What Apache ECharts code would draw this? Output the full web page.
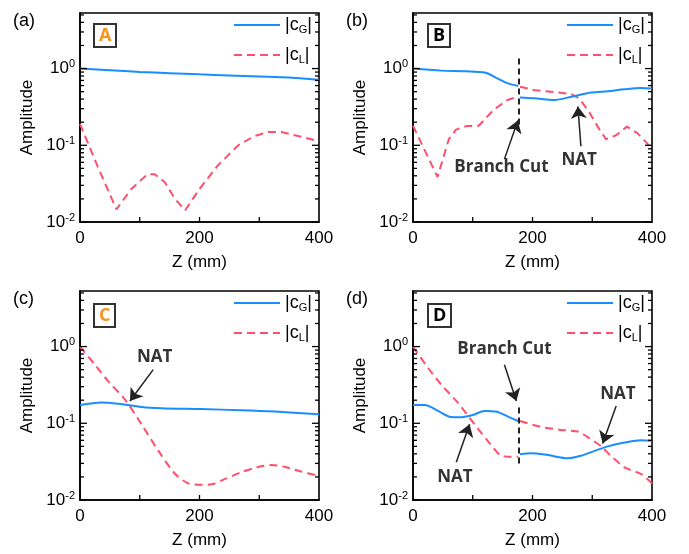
<!DOCTYPE html>
<html><head><meta charset="utf-8">
<script src="https://cdn.jsdelivr.net/npm/echarts@6/dist/echarts.min.js"></script>
<style>html,body{margin:0;padding:0;background:#fff}#c{width:689px;height:554px}</style>
</head><body><div id="c"></div>
<script>
// ---------------- data ----------------
const xLabelValues = [0, 200, 400];
const xTickValues = [100, 200, 300];
const yTickExps = [-2, -1, 0];
const yMinorMultipliers = [2, 3, 4, 5, 6, 7, 8, 9];

// panel (a)
const zA_G = [0, 50, 100, 150, 200, 250, 300, 350, 380, 400];
const cA_G = [1.0, 0.95, 0.905, 0.87, 0.84, 0.815, 0.79, 0.765, 0.735, 0.71];
const zA_L = [0, 30, 61, 86, 113, 125, 142, 159, 176, 200, 231, 265, 292, 315, 337, 365, 400];
const cA_L = [0.19, 0.052, 0.0146, 0.027, 0.042, 0.042, 0.033, 0.020, 0.0142, 0.027, 0.055, 0.10, 0.132, 0.149, 0.149, 0.132, 0.113];

// panel (b)
const zB_G = [0, 47, 89, 120, 142, 159, 176, 177, 179, 203, 237, 265, 298, 326, 354, 382, 400];
const cB_G = [1.0, 0.94, 0.92, 0.887, 0.74, 0.64, 0.594, null, 0.42, 0.41, 0.39, 0.43, 0.486, 0.506, 0.537, 0.56, 0.55];
const zB_L = [0, 41, 60, 72, 90, 110, 135, 158, 176, 177, 179, 205, 240, 265, 278, 295, 310, 323, 340, 358, 375, 390, 400];
const cB_L = [0.18, 0.0386, 0.12, 0.16, 0.178, 0.18, 0.29, 0.39, 0.43, null, 0.58, 0.52, 0.49, 0.465, 0.41, 0.27, 0.17, 0.12, 0.135, 0.175, 0.145, 0.11, 0.09];

// panel (c)
const zC_G = [0, 36, 64, 103, 136, 203, 270, 326, 400];
const cC_G = [0.173, 0.187, 0.18, 0.163, 0.157, 0.153, 0.148, 0.142, 0.131];
const zC_L = [0, 25, 47, 75, 103, 131, 159, 181, 203, 220, 242, 270, 298, 320, 343, 370, 400];
const cC_L = [1.0, 0.58, 0.355, 0.205, 0.097, 0.044, 0.022, 0.0165, 0.0158, 0.016, 0.0187, 0.023, 0.027, 0.0285, 0.027, 0.0235, 0.0207];

// panel (d)
const zD_G = [0, 19.5, 42, 61, 81, 100, 120, 139, 159, 176, 177, 179, 198, 226, 259, 281, 304, 326, 354, 382, 400];
const cD_G = [0.173, 0.173, 0.145, 0.122, 0.12, 0.128, 0.145, 0.142, 0.122, 0.107, null, 0.0396, 0.0408, 0.0385, 0.035, 0.0377, 0.0437, 0.05, 0.056, 0.06, 0.059];
const zD_L = [0, 25, 47, 75, 103, 125, 145, 159, 176, 177, 179, 214, 248, 276, 295, 315, 331, 354, 382, 400];
const cD_L = [1.0, 0.53, 0.32, 0.186, 0.097, 0.059, 0.039, 0.0365, 0.0365, null, 0.107, 0.0895, 0.082, 0.078, 0.064, 0.05, 0.0377, 0.0266, 0.0218, 0.0164];

// annotations (data coordinates)
const cutB = [177, 1.35, 0.174];
const textB = [['Branch Cut', 148, 0.052], ['NAT', 278, 0.064]];
const arrowB = [[153, 0.066, 175.5, 0.21], [281, 0.097, 276, 0.32]];
const textC = [['NAT', 125, 0.73]];
const arrowC = [[122.5, 0.5, 83.6, 0.195]];
const cutD = [177, 0.16, 0.027];
const textD = [['Branch Cut', 153, 0.914], ['NAT', 70, 0.0197], ['NAT', 343, 0.238]];
const arrowD = [[153, 0.58, 173, 0.195], [72.4, 0.031, 94.7, 0.097], [340, 0.168, 317.5, 0.0545]];

// ---------------- styling ----------------
const BLUE = '#1a8cff', RED = '#ff4f6e', ORANGE = '#f7941d';
const FONT = 'Liberation Sans, Arial, sans-serif';
const BFONT = 'Open Sans, sans-serif';
const yMin = 0.01, yMax = 5.3;

// tick positions (value space): [x, y, kind]  kind 0 = y major, 1 = y minor, 2 = x tick
const tickData = [];
yTickExps.forEach(e => {
  tickData.push([0, Math.pow(10, e), 0]);
  yMinorMultipliers.forEach(k => { const v = k * Math.pow(10, e); if (v <= yMax) tickData.push([0, v, 1]); });
});
xTickValues.forEach(z => tickData.push([z, yMin, 2]));

const panels = [
  { g: [80, 13], tag: '(a)', box: 'A', boxColor: ORANGE, boxPos: [94, 24], zG: zA_G, cG: cA_G, zL: zA_L, cL: cA_L, smoothL: false },
  { g: [413, 13], tag: '(b)', box: 'B', boxColor: '#000', boxPos: [428, 24], zG: zB_G, cG: cB_G, zL: zB_L, cL: cB_L, smoothL: false, cut: cutB, text: textB, arrows: arrowB },
  { g: [80, 291], tag: '(c)', box: 'C', boxColor: ORANGE, boxPos: [94, 304], zG: zC_G, cG: cC_G, zL: zC_L, cL: cC_L, smoothL: 0.3, text: textC, arrows: arrowC },
  { g: [413, 291], tag: '(d)', box: 'D', boxColor: '#000', boxPos: [428, 304], zG: zD_G, cG: cD_G, zL: zD_L, cL: cD_L, smoothL: 0.2, cut: cutD, text: textD, arrows: arrowD }
];
const W = 239, H = 209;

function pairs(z, c) { return z.map((v, i) => [v, c[i] === null ? '-' : c[i]]); }

function renderTick(params, api) {
  const cs = params.coordSys;
  const k = api.value(2);
  const p = api.coord([api.value(0), api.value(1)]);
  const st = { stroke: '#000', lineWidth: 1.3 };
  if (k === 2) {
    const yb = cs.y + cs.height;
    return { type: 'line', shape: { x1: p[0], y1: yb, x2: p[0], y2: yb - 5 }, style: st };
  }
  const L = k === 0 ? 7 : 4;
  const xl = cs.x, xr = cs.x + cs.width;
  return { type: 'group', children: [
    { type: 'line', shape: { x1: xl, y1: p[1], x2: xl + L, y2: p[1] }, style: st },
    { type: 'line', shape: { x1: xr, y1: p[1], x2: xr - L, y2: p[1] }, style: st }
  ] };
}

const grid = [], xAxis = [], yAxis = [], series = [], legend = [], title = [];

panels.forEach((p, i) => {
  grid.push({ left: p.g[0], top: p.g[1], width: W, height: H, show: true, borderColor: '#000', borderWidth: 1.6 });
  xAxis.push({ type: 'value', gridIndex: i, position: 'bottom', min: 0, max: 400, interval: 100,
    axisLine: { show: true, onZero: false, lineStyle: { color: '#000', width: 1.6 } },
    axisTick: { show: false }, splitLine: { show: false },
    axisLabel: { fontSize: 17, color: '#000', fontFamily: FONT, margin: 8,
      formatter: v => xLabelValues.includes(v) ? String(v) : '' },
    name: 'Z (mm)', nameLocation: 'middle', nameGap: 32,
    nameTextStyle: { fontSize: 17, color: '#000', fontFamily: FONT } });
  yAxis.push({ type: 'log', logBase: 10, gridIndex: i, position: 'left', min: yMin, max: yMax,
    axisLine: { show: true, onZero: false, lineStyle: { color: '#000', width: 1.6 } },
    axisTick: { show: false }, minorTick: { show: false }, splitLine: { show: false },
    axisLabel: { margin: 5, color: '#000', fontFamily: FONT,
      formatter: v => { const l = Math.log10(v), e = Math.round(l); return Math.abs(l - e) < 1e-6 && yTickExps.includes(e) ? '{b|10}{s|' + e + '}' : ''; },
      rich: { b: { fontSize: 17, fontFamily: FONT, color: '#000' }, s: { fontSize: 11, fontFamily: FONT, color: '#000', padding: [0, 0, 9, 0] } } },
    name: 'Amplitude', nameLocation: 'middle', nameGap: 44,
    nameTextStyle: { fontSize: 17, color: '#000', fontFamily: FONT } });

  const gSeries = { type: 'line', name: 'cG', xAxisIndex: i, yAxisIndex: i, data: pairs(p.zG, p.cG),
    symbol: 'none', smooth: 0.3, connectNulls: false, lineStyle: { color: BLUE, width: 2 }, itemStyle: { color: BLUE }, z: 3 };
  const lSeries = { type: 'line', name: 'cL', xAxisIndex: i, yAxisIndex: i, data: pairs(p.zL, p.cL),
    symbol: 'none', smooth: p.smoothL, connectNulls: false, lineStyle: { color: RED, width: 2, type: [8, 5] }, itemStyle: { color: RED }, z: 2 };
  if (p.cut) {
    gSeries.markLine = { silent: true, symbol: ['none', 'none'], animation: false, label: { show: false },
      lineStyle: { color: '#222', width: 2, type: [6, 4] },
      data: [[{ coord: [p.cut[0], p.cut[1]] }, { coord: [p.cut[0], p.cut[2]] }]] };
  }
  if (p.arrows) {
    lSeries.markLine = { silent: true, symbol: ['none', 'arrow'], symbolSize: 12, animation: false, label: { show: false },
      lineStyle: { color: '#222', width: 1.5, type: 'solid' },
      data: p.arrows.map(a => [{ coord: [a[0], a[1]] }, { coord: [a[2], a[3]] }]) };
  }
  if (p.text) {
    gSeries.markPoint = { silent: true, symbol: 'rect', symbolSize: 1, animation: false, itemStyle: { color: 'rgba(0,0,0,0)' },
      label: { show: true, position: 'inside', formatter: '{b}', fontSize: 17, fontWeight: 'bold', color: '#333', fontFamily: BFONT },
      data: p.text.map(t => ({ name: t[0], coord: [t[1], t[2]] })) };
  }
  const tSeries = { type: 'custom', name: 'ticks', xAxisIndex: i, yAxisIndex: i, silent: true, clip: false, z: 4,
    encode: { x: 0, y: 1 }, data: tickData, renderItem: renderTick };
  series.push(gSeries, lSeries, tSeries);

  legend.push({ orient: 'vertical', left: p.g[0] + 148, top: p.g[1] - 4, itemWidth: 46, itemHeight: 12, itemGap: 8,
    selectedMode: false, data: ['cG', 'cL'],
    itemStyle: { color: 'rgba(0,0,0,0)', borderColor: 'rgba(0,0,0,0)', borderWidth: 0, opacity: 0 },
    formatter: n => '|c{sub|' + n.slice(1) + '}|',
    textStyle: { fontSize: 18, color: '#000', fontFamily: FONT, lineHeight: 22,
      rich: { sub: { fontSize: 11, fontFamily: FONT, color: '#000', padding: [9, 0, 0, 0] } } } });

  title.push({ text: p.tag, left: p.g[0] - 67, top: p.g[1] - 1, padding: 0,
    textStyle: { fontSize: 18, fontWeight: 'normal', color: '#000', fontFamily: FONT } });
  title.push({ text: p.box, left: p.boxPos[0], top: p.boxPos[1], padding: [2, 5, 1, 5], borderColor: '#333', borderWidth: 2,
    textStyle: { fontSize: 18, fontWeight: 'bold', color: p.boxColor, fontFamily: BFONT, lineHeight: 20 } });
});

const chart = echarts.init(document.getElementById('c'), null, { renderer: 'canvas' });
chart.setOption({ animation: false, backgroundColor: '#fff', title, legend, grid, xAxis, yAxis, series });
</script>
</body></html>
